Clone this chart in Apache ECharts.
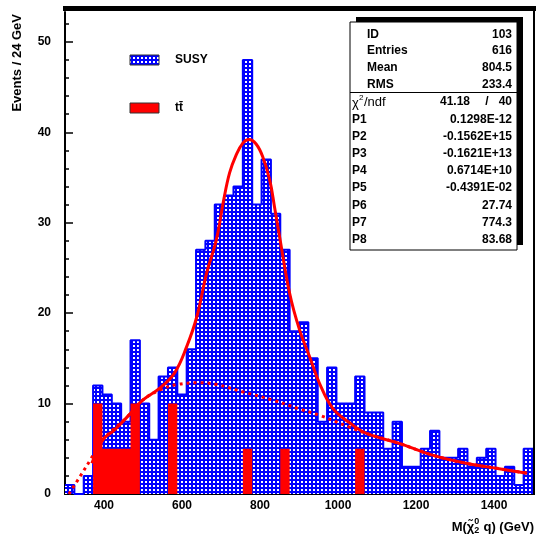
<!DOCTYPE html>
<html><head><meta charset="utf-8">
<script src="https://cdn.jsdelivr.net/npm/echarts@6/dist/echarts.min.js"></script>
<style>html,body{margin:0;padding:0;background:#fff}#c{width:536px;height:540px}</style>
</head><body><div id="c"></div>
<script>
// ---- data ----
const binStart = 300;
const binWidth = 24;
const susyCounts = [1,0,2,12,11,10,8,17,10,6,13,14,11,16,27,28,32,33,34,48,32,37,31,27,18,19,15,8,14,10,10,13,9,9,5,8,3,3,5,7,4,4,5,3,4,5,2,3,1,5];
const ttCounts   = [0,0,0,10,5,5,5,10,0,0,0,10,0,0,0,0,0,0,0,5,0,0,0,5,0,0,0,0,0,0,0,5,0,0,0,0,0,0,0,0,0,0,0,0,0,0,0,0,0,0];
const fitX = [369,397,427,459,500,543,581,612,638,663,688,706,722,739,756,772,790,807,825,837,850,876,901,927,952,986,1029,1073,1157,1242,1329,1413,1485];
const fitY = [3.4,6.0,7.1,8.5,10.4,11.7,13.4,16.3,19.6,24.4,28.1,32.3,35.5,37.5,38.8,39.2,38.7,37.3,34.7,31.8,28.5,22.2,18.2,15.2,12.3,9.5,7.9,6.7,5.6,4.3,3.4,2.8,2.3];
const bkgX = [310,338,364,397,459,500,543,587,645,689,755,832,901,953,1029,1073,1157,1242,1329,1413,1485];
const bkgY = [0.0,1.9,3.7,6.0,8.5,10.4,11.5,12.1,12.3,12.1,11.3,10.4,9.4,8.7,7.4,6.7,5.6,4.3,3.4,2.8,2.3];
const xMajor = [400,600,800,1000,1200,1400];
const xMinor = [350,450,500,550,650,700,750,850,900,950,1050,1100,1150,1250,1300,1350,1450];
const yMajor = [0,10,20,30,40,50];
const yMinor = [2,4,6,8,12,14,16,18,22,24,26,28,32,34,36,38,42,44,46,48,52];
const statNames = ['ID','Entries','Mean','RMS'];
const statVals = ['103','616','804.5','233.4'];
const chi2Val = '41.18';
const ndfVal = '40';
const parNames = ['P1','P2','P3','P4','P5','P6','P7','P8'];
const parVals = ['0.1298E-12','-0.1562E+15','-0.1621E+13','0.6714E+10','-0.4391E-02','27.74','774.3','83.68'];
const legendNames = ['SUSY','tt\u0304'];

// ---- build ----
function stepPts(counts){
  const pts = counts.map((c,i)=>[binStart+i*binWidth, c]);
  pts.push([binStart+counts.length*binWidth, counts[counts.length-1]]);
  pts.push([binStart+counts.length*binWidth, 0]);
  return pts;
}
function makePattern(){
  const c=document.createElement('canvas'); c.width=4; c.height=4;
  const g=c.getContext('2d');
  g.fillStyle='#0000ff'; g.fillRect(0,0,4,4);
  g.fillStyle='#ffffff'; g.fillRect(1,1,2,2);
  return c;
}
const pat = {image: makePattern(), repeat:'repeat'};
const FF = '"Liberation Sans", Arial, sans-serif';

const mc = document.createElement('canvas').getContext('2d');
function tw(t, f){ mc.font = f; return mc.measureText(t).width; }

const gr = [];
// frame
gr.push({type:'rect', shape:{x:63,y:6,width:473,height:5}, style:{fill:'#000'}, z:10});
gr.push({type:'rect', shape:{x:533,y:6,width:2,height:489}, style:{fill:'#000'}, z:10});
// stats box
const bx=350, by=22, bw=167, bh=228;
gr.push({type:'rect', shape:{x:bx+6,y:by-5,width:bw,height:bh}, style:{fill:'#000'}, z:20});
gr.push({type:'rect', shape:{x:bx,y:by,width:bw,height:bh}, style:{fill:'#fff', stroke:'#000', lineWidth:1}, z:21});
gr.push({type:'line', shape:{x1:bx,y1:92.5,x2:bx+bw,y2:92.5}, style:{stroke:'#000', lineWidth:1}, z:22});
const rowY = [35,51,68,85,102,119.5,137,154,171,188,206,223,240];
const bf = 'bold 12px '+FF;
statNames.forEach((n,i)=>{
  gr.push({type:'text', x:367, y:rowY[i], style:{text:n, font:bf, fill:'#000', textAlign:'left', textVerticalAlign:'middle'}, z:23});
  gr.push({type:'text', x:512, y:rowY[i], style:{text:statVals[i], font:bf, fill:'#000', textAlign:'right', textVerticalAlign:'middle'}, z:23});
});
// chi2/ndf
const rf = '13px '+FF;
gr.push({type:'text', x:352, y:rowY[4]+1, style:{text:'\u03c7', font:rf, fill:'#000', textAlign:'left', textVerticalAlign:'middle'}, z:23});
gr.push({type:'text', x:359, y:rowY[4]-4, style:{text:'2', font:'8px '+FF, fill:'#000', textAlign:'left', textVerticalAlign:'middle'}, z:23});
gr.push({type:'text', x:364, y:rowY[4], style:{text:'/ndf', font:rf, fill:'#000', textAlign:'left', textVerticalAlign:'middle'}, z:23});
gr.push({type:'text', x:470, y:rowY[4], style:{text:chi2Val, font:bf, fill:'#000', textAlign:'right', textVerticalAlign:'middle'}, z:23});
gr.push({type:'text', x:487, y:rowY[4], style:{text:'/', font:bf, fill:'#000', textAlign:'center', textVerticalAlign:'middle'}, z:23});
gr.push({type:'text', x:512, y:rowY[4], style:{text:ndfVal, font:bf, fill:'#000', textAlign:'right', textVerticalAlign:'middle'}, z:23});
parNames.forEach((n,i)=>{
  gr.push({type:'text', x:352, y:rowY[5+i], style:{text:n, font:bf, fill:'#000', textAlign:'left', textVerticalAlign:'middle'}, z:23});
  gr.push({type:'text', x:512, y:rowY[5+i], style:{text:parVals[i], font:bf, fill:'#000', textAlign:'right', textVerticalAlign:'middle'}, z:23});
});
// legend
gr.push({type:'rect', shape:{x:130,y:55,width:29,height:10}, style:{fill:pat, stroke:'#333', lineWidth:1}, z:20});
gr.push({type:'text', x:175, y:60, style:{text:legendNames[0], font:bf, fill:'#000', textAlign:'left', textVerticalAlign:'middle'}, z:20});
gr.push({type:'rect', shape:{x:130,y:103,width:29,height:10}, style:{fill:'#ff0000', stroke:'#333', lineWidth:1}, z:20});
gr.push({type:'text', x:175, y:108, style:{text:legendNames[1], font:bf, fill:'#000', textAlign:'left', textVerticalAlign:'middle'}, z:20});
// y title
gr.push({type:'text', x:17, y:14, rotation:Math.PI/2, style:{text:'Events / 24 GeV', font:'bold 13px '+FF, fill:'#000', textAlign:'right', textVerticalAlign:'middle'}, z:20});
// x title
const tf = 'bold 13px '+FF, sf = 'bold 9px '+FF;
const p1 = 'M(\u03c7\u0303', p3 = ' q) (GeV)';
const w3 = tw(p3, tf), ws = tw('0', sf), w1 = tw(p1, tf);
const xEnd = 534, tyc = 527;
const x3 = xEnd - w3, xs = x3 - ws - 0.5, x1 = xs - w1;
gr.push({type:'text', x:x1, y:tyc, style:{text:p1, font:tf, fill:'#000', textAlign:'left', textVerticalAlign:'middle'}, z:20});
gr.push({type:'text', x:xs, y:tyc-5, style:{text:'0', font:sf, fill:'#000', textAlign:'left', textVerticalAlign:'middle'}, z:20});
gr.push({type:'text', x:xs, y:tyc+4, style:{text:'2', font:sf, fill:'#000', textAlign:'left', textVerticalAlign:'middle'}, z:20});
gr.push({type:'text', x:x3, y:tyc, style:{text:p3, font:tf, fill:'#000', textAlign:'left', textVerticalAlign:'middle'}, z:20});

const lab = {color:'#000', fontWeight:'bold', fontSize:12, fontFamily:'Liberation Sans', formatter:(v)=>String(v)};
const option = {
  animation:false,
  backgroundColor:'#fff',
  grid:{left:65, right:3, top:12, bottom:46},
  xAxis:[
    {type:'value', min:300, max:1500, axisLine:{show:true, onZero:false, lineStyle:{color:'#000', width:2}},
     axisTick:{show:true, inside:true, length:8, customValues:xMajor, lineStyle:{color:'#000', width:1.5}},
     axisLabel:Object.assign({customValues:xMajor, margin:6}, lab), splitLine:{show:false}},
    {type:'value', min:300, max:1500, position:'bottom', axisLine:{show:false, onZero:false},
     axisTick:{show:true, inside:true, length:4, customValues:xMinor, lineStyle:{color:'#000', width:1.5}},
     axisLabel:{show:false}, splitLine:{show:false}}
  ],
  yAxis:[
    {type:'value', min:0, max:53.3, axisLine:{show:true, onZero:false, lineStyle:{color:'#000', width:2}},
     axisTick:{show:true, inside:true, length:8, customValues:yMajor, lineStyle:{color:'#000', width:1.5}},
     axisLabel:Object.assign({customValues:yMajor, margin:14}, lab), splitLine:{show:false}},
    {type:'value', min:0, max:53.3, position:'left', axisLine:{show:false, onZero:false},
     axisTick:{show:true, inside:true, length:4, customValues:yMinor, lineStyle:{color:'#000', width:1.5}},
     axisLabel:{show:false}, splitLine:{show:false}}
  ],
  series:[
    {name:'SUSY', type:'line', step:'end', data:stepPts(susyCounts), symbol:'none', z:2,
     lineStyle:{color:'#0000ff', width:2}, areaStyle:{color:pat, opacity:1}},
    {name:'tt', type:'line', step:'end', data:stepPts(ttCounts), symbol:'none', z:3,
     lineStyle:{width:0, color:'#ff0000'}, areaStyle:{color:'#ff0000', opacity:1}},
    {name:'bkg', type:'line', data:bkgX.map((x,i)=>[x,bkgY[i]]), symbol:'none', smooth:0.4, z:4,
     lineStyle:{color:'#ff0000', width:3, type:[3,4]}},
    {name:'fit', type:'line', data:fitX.map((x,i)=>[x,fitY[i]]), symbol:'none', smooth:0.4, z:5,
     lineStyle:{color:'#ff0000', width:3}}
  ],
  graphic:gr
};
const chart = echarts.init(document.getElementById('c'), null, {renderer:'canvas'});
chart.setOption(option);
</script>
</body></html>
